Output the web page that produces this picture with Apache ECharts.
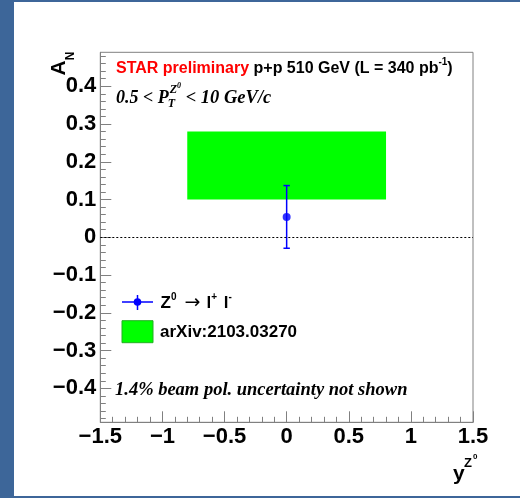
<!DOCTYPE html>
<html><head><meta charset="utf-8">
<script src="https://cdn.jsdelivr.net/npm/echarts@6/dist/echarts.min.js"></script>
<style>
html,body{margin:0;padding:0;background:#3d6699;width:520px;height:498px;overflow:hidden}
#chart{position:absolute;left:14px;top:2px;width:506px;height:494px;background:#fff}
</style></head><body><div id="chart"></div>
<script>
// ---- data ----
const xRange = [-1.5, 1.5];
const yRange = [-0.49, 0.49];
const xTickLabels = [-1.5, -1, -0.5, 0, 0.5, 1, 1.5];
const yTickLabels = [-0.4, -0.3, -0.2, -0.1, 0, 0.1, 0.2, 0.3, 0.4];
const pointX = [0];
const pointY = [0.054];
const pointErr = [0.083];
const bandX = [-0.8, 0.8];
const bandY = [0.10, 0.28];
const zeroLine = [0];

// ---- style ----
const frameColor = '#808080';
const sansF = "'Liberation Sans', Arial, Helvetica, sans-serif";
const minus = v => String(v).replace('-', '\u2212');
const yMinorTicks = [];
for (let i = -24; i <= 24; i++) yMinorTicks.push(Math.round(i * 2) / 100);

const ctx = document.createElement('canvas').getContext('2d');
function tw(font, t) { ctx.font = font; return ctx.measureText(t).width; }
function txt(x, y, text, font, fill, extra) {
  return Object.assign({ type: 'text', x: x, y: y, silent: true,
    style: { text: text, font: font, fill: fill || '#000', align: 'left', verticalAlign: 'middle' } }, extra || {});
}
function seq(x0, y0, pieces) {
  const out = []; let x = x0;
  for (let i = 0; i < pieces.length; i++) {
    const p = pieces[i];
    out.push(txt(x + (p.dx || 0), y0 + (p.dy || 0), p.t, p.font, p.fill));
    x += tw(p.font, p.t) + (p.dx || 0);
  }
  return { els: out, end: x };
}

const graphics = [];
// STAR preliminary line
const b16 = "bold 16px 'Liberation Sans'";
graphics.push(...seq(102, 66.5, [
  { t: 'STAR preliminary', font: b16, fill: '#ff0000' },
  { t: ' p+p 510 GeV (L = 340 pb', font: b16 },
  { t: '-1', font: "bold 10px 'Liberation Sans'", dy: -6 },
  { t: ')', font: b16 }
]).els);
// pT range line
const it18 = "italic bold 18px 'Liberation Serif'";
const s1 = seq(102, 96, [{ t: '0.5 < P', font: it18 }]);
graphics.push(...s1.els);
const xs = s1.end + 1;
const fZ = "italic bold 12px 'Liberation Serif'";
graphics.push(txt(xs - 2, 102, 'T', fZ));
graphics.push(txt(xs, 87.5, 'Z', fZ));
const zEnd = xs + tw(fZ, 'Z');
graphics.push(txt(zEnd, 83.5, '0', "italic bold 8px 'Liberation Serif'"));
graphics.push(txt(zEnd + 4, 96, ' < 10 GeV/c', "italic bold 18.5px 'Liberation Serif'"));
// beam pol. note
graphics.push(txt(101, 388, '1.4% beam pol. uncertainty not shown', "italic bold 18.5px 'Liberation Serif'"));

// legend entry 1 (marker)
graphics.push({ type: 'line', silent: true, shape: { x1: 108, y1: 300, x2: 139, y2: 300 }, style: { stroke: '#0000ff', lineWidth: 1.5 } });
graphics.push({ type: 'line', silent: true, shape: { x1: 123.5, y1: 293, x2: 123.5, y2: 308 }, style: { stroke: '#0000ff', lineWidth: 1.5 } });
graphics.push({ type: 'circle', silent: true, shape: { cx: 123.5, cy: 300, r: 3.8 }, style: { fill: '#0000ff' } });
const b17 = "bold 17px 'Liberation Sans'";
const sup10 = "bold 10px 'Liberation Sans'";
graphics.push(...seq(146.5, 301, [
  { t: 'Z', font: b17 },
  { t: '0', font: sup10, dy: -6 },
  { t: ' \u2192 ', font: "19px 'DejaVu Sans'", dx: 2 },
  { t: 'l', font: b17 },
  { t: '+', font: sup10, dy: -6 },
  { t: ' l', font: b17, dx: 2 },
  { t: '-', font: sup10, dy: -6 }
]).els);
// legend entry 2 (band)
graphics.push({ type: 'rect', silent: true, shape: { x: 108, y: 318.7, width: 31, height: 22 }, style: { fill: '#00ff00', stroke: '#22b022', lineWidth: 1 } });
graphics.push(txt(146, 330, 'arXiv:2103.03270', b17));

// axis titles
graphics.push({ type: 'text', x: 45.5, y: 66, rotation: Math.PI / 2, silent: true,
  style: { text: 'A', font: "bold 21px 'Liberation Sans'", fill: '#000', align: 'center', verticalAlign: 'middle' } });
graphics.push({ type: 'text', x: 57, y: 54, rotation: Math.PI / 2, silent: true,
  style: { text: 'N', font: "bold 12px 'Liberation Sans'", fill: '#000', align: 'center', verticalAlign: 'middle' } });
graphics.push(txt(439, 472, 'y', "bold 21px 'Liberation Sans'"));
graphics.push(txt(450, 461, 'Z', "bold 13px 'Liberation Sans'"));
graphics.push(txt(459, 455, '0', "bold 8px 'Liberation Sans'"));

const chart = echarts.init(document.getElementById('chart'));
chart.setOption({
  animation: false,
  grid: { left: 86.3, top: 50.3, width: 372.7, height: 370, show: true, borderColor: frameColor, borderWidth: 1, backgroundColor: 'transparent' },
  xAxis: {
    type: 'value', min: xRange[0], max: xRange[1], interval: 0.5,
    axisLine: { show: true, onZero: false, lineStyle: { color: frameColor } },
    axisTick: { show: true, inside: true, length: 11, lineStyle: { color: frameColor } },
    minorTick: { show: true, splitNumber: 5, length: 5.5, lineStyle: { color: frameColor } },
    splitLine: { show: false },
    axisLabel: { color: '#000', fontFamily: sansF, fontWeight: 'bold', fontSize: 22, margin: 4,
      customValues: xTickLabels, formatter: minus, showMinLabel: true, showMaxLabel: true }
  },
  yAxis: [{
    type: 'value', min: yRange[0], max: yRange[1],
    axisLine: { show: true, onZero: false, lineStyle: { color: frameColor } },
    axisTick: { show: true, inside: true, length: 11, customValues: yTickLabels, lineStyle: { color: frameColor } },
    splitLine: { show: false },
    axisLabel: { color: '#000', fontFamily: sansF, fontWeight: 'bold', fontSize: 22, margin: 4,
      customValues: yTickLabels, formatter: minus }
  }, {
    type: 'value', min: yRange[0], max: yRange[1], position: 'left', offset: 0,
    axisLine: { show: false, onZero: false },
    axisTick: { show: true, inside: true, length: 5.5, customValues: yMinorTicks, lineStyle: { color: frameColor } },
    splitLine: { show: false },
    axisLabel: { show: false }
  }],
  series: [{
    type: 'custom', xAxisIndex: 0, yAxisIndex: 0, z: 1,
    data: [[bandX[0], bandX[1], bandY[0], bandY[1]]],
    encode: { x: [0, 1], y: [2, 3] },
    renderItem: function (params, api) {
      const p1 = api.coord([api.value(0), api.value(3)]);
      const p2 = api.coord([api.value(1), api.value(2)]);
      return { type: 'rect', shape: { x: p1[0], y: p1[1], width: p2[0] - p1[0], height: p2[1] - p1[1] },
        style: { fill: '#00ff00' } };
    }
  }, {
    type: 'custom', xAxisIndex: 0, yAxisIndex: 0, z: 3,
    data: pointX.map((x, i) => [x, pointY[i] - pointErr[i], pointY[i] + pointErr[i]]),
    encode: { x: 0, y: [1, 2] },
    renderItem: function (params, api) {
      const x = api.value(0);
      const pLo = api.coord([x, api.value(1)]);
      const pHi = api.coord([x, api.value(2)]);
      const cw = 3.2;
      const st = { stroke: '#0000ff', lineWidth: 1.5 };
      return { type: 'group', children: [
        { type: 'line', shape: { x1: pLo[0], y1: pLo[1], x2: pHi[0], y2: pHi[1] }, style: st },
        { type: 'line', shape: { x1: pLo[0] - cw, y1: pLo[1], x2: pLo[0] + cw, y2: pLo[1] }, style: st },
        { type: 'line', shape: { x1: pHi[0] - cw, y1: pHi[1], x2: pHi[0] + cw, y2: pHi[1] }, style: st }
      ] };
    }
  }, {
    type: 'scatter', xAxisIndex: 0, yAxisIndex: 0, z: 4,
    symbol: 'circle', symbolSize: 8,
    itemStyle: { color: '#0000ff' },
    data: pointX.map((x, i) => [x, pointY[i]]),
    markLine: {
      silent: true, symbol: ['none', 'none'], label: { show: false },
      lineStyle: { color: '#000', type: [2, 2], width: 1 },
      data: zeroLine.map(v => ({ yAxis: v }))
    }
  }],
  graphic: { elements: graphics }
});
</script></body></html>
